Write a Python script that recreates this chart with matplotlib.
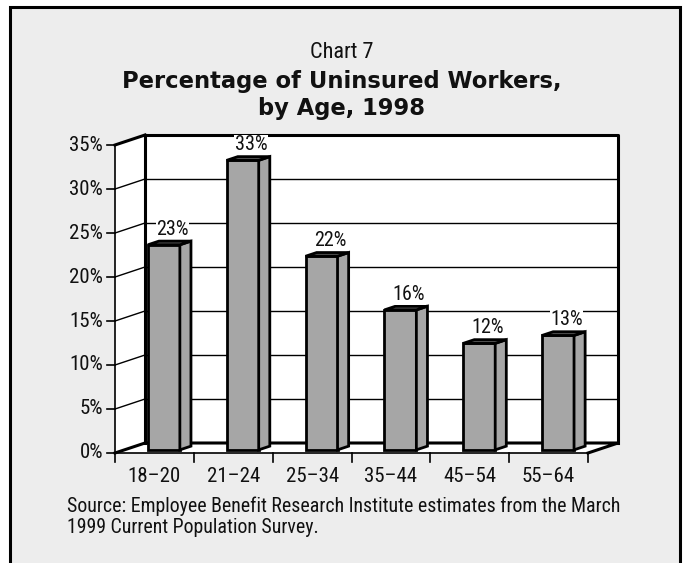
import matplotlib
matplotlib.use("Agg")
import matplotlib.pyplot as plt
from matplotlib import font_manager
from matplotlib.patches import Polygon, Rectangle

# ---- data ----
categories = ["18–20", "21–24", "25–34", "35–44", "45–54", "55–64"]
values = [23.3, 32.9, 22.0, 15.9, 12.1, 13.0]
value_labels = ["23%", "33%", "22%", "16%", "12%", "13%"]
y_ticks = [0, 5, 10, 15, 20, 25, 30, 35]
y_tick_labels = ["0%", "5%", "10%", "15%", "20%", "25%", "30%", "35%"]
chart_no = "Chart 7"
title_lines = "Percentage of Uninsured Workers,\nby Age, 1998"
source = ("Source: Employee Benefit Research Institute estimates from the March\n"
          "1999 Current Population Survey.")

# ---- fonts ----
names = {f.name for f in font_manager.fontManager.ttflist}
COND = next((n for n in ["Liberation Sans Narrow", "Roboto Condensed",
                         "Arial Narrow", "Liberation Sans"] if n in names), "DejaVu Sans")

W, H = 684, 563
fig = plt.figure(figsize=(W / 100, H / 100), dpi=100)
fig.patch.set_facecolor("white")

def fx(px):
    return px / W

def fy(py):
    return 1 - py / H

# outer panel
fig.patches.append(Rectangle((fx(10), fy(575)), fx(680) - fx(10), fy(7) - fy(575),
                             transform=fig.transFigure, facecolor="#ededed",
                             edgecolor="black", linewidth=2.2, zorder=-5))

# titles
fig.text(fx(342), fy(58), chart_no, ha="center", va="baseline",
         fontsize=16, family=COND, color="#111111")
l1, l2 = title_lines.split("\n")
fig.text(fx(342), fy(88), l1, ha="center", va="baseline",
         fontsize=16.3, fontweight="bold", family="DejaVu Sans", color="#111111")
fig.text(fx(342), fy(115), l2, ha="center", va="baseline",
         fontsize=16.3, fontweight="bold", family="DejaVu Sans", color="#111111")

# source
s1, s2 = source.split("\n")
fig.text(fx(67), fy(512), s1, ha="left", va="baseline", fontsize=14.3, family=COND, color="#111111")
fig.text(fx(67), fy(533), s2, ha="left", va="baseline", fontsize=14.3, family=COND, color="#111111")

# axes = front plane
L, R, B, T = 115, 588, 453, 145
ax = fig.add_axes([fx(L), fy(B), fx(R) - fx(L), fy(T) - fy(B)])
ax.set_xlim(0, len(categories))
ax.set_ylim(0, 35)
ax.axis("off")

n = len(categories)
px_x = (R - L) / n
px_y = (B - T) / 35.0
DX = 30 / px_x
DY = 10 / px_y
TOP = y_ticks[-1]

def poly(pts, fc, ec="black", lw=0, z=1):
    ax.add_patch(Polygon(pts, closed=True, facecolor=fc, edgecolor=ec,
                         linewidth=lw, clip_on=False, zorder=z, joinstyle="miter"))

def line(xs, ys, lw, z=2):
    ax.plot(xs, ys, color="black", linewidth=lw, clip_on=False, zorder=z,
            solid_capstyle="projecting")

# walls
poly([(DX, DY), (n + DX, DY), (n + DX, TOP + DY), (DX, TOP + DY)], "white", lw=0, z=1)
poly([(0, 0), (DX, DY), (DX, TOP + DY), (0, TOP)], "white", lw=0, z=1)
poly([(0, 0), (n, 0), (n + DX, DY), (DX, DY)], "white", lw=0, z=1)

# gridlines
for v in y_ticks[1:-1]:
    line([DX, n + DX], [v + DY, v + DY], 1.0, z=2)
    line([0, DX], [v, v + DY], 1.0, z=2)

# wall edges
thick = 2.2
line([DX, n + DX, n + DX], [TOP + DY, TOP + DY, DY], thick, z=3)
line([DX, DX], [DY, TOP + DY], thick, z=3)
line([0, DX], [TOP, TOP + DY], thick, z=3)
line([0, DX, n + DX, n], [0, DY, DY, 0], thick, z=3)
line([0, 0], [0, TOP], 1.2, z=3)
line([0, n], [0, 0], 1.2, z=3)

# y ticks & labels
tick_x = 8 / px_x
for v, lab in zip(y_ticks, y_tick_labels):
    line([-tick_x, 0], [v, v], 1.2, z=3)
    ax.text(-12 / px_x, v, lab, ha="right", va="center", fontsize=15,
            family=COND, color="#111111")

# x ticks & labels
tick_y = 9 / px_y
for i in range(n + 1):
    line([i, i], [0, -tick_y], 1.2, z=3)
for i, c in enumerate(categories):
    ax.text(i + 0.5, -29 / px_y, c, ha="center", va="baseline", fontsize=15,
            family=COND, color="#111111")

# bars
f_front = 0.315
s_depth = 0.37
bw = 32 / px_x
for i, (v, lab) in enumerate(zip(values, value_labels)):
    xl = i + 0.5 - bw / 2 + f_front * DX
    xr = xl + bw
    yb = f_front * DY
    yt = v + f_front * DY
    sx, sy = s_depth * DX, s_depth * DY
    z = 10 + i
    poly([(xl, yb), (xr, yb), (xr, yt), (xl, yt)], "#a6a6a6", lw=2.0, z=z)
    poly([(xr, yb), (xr + sx, yb + sy), (xr + sx, yt + sy), (xr, yt)], "#a6a6a6", lw=2.0, z=z)
    poly([(xl, yt), (xr, yt), (xr + sx, yt + sy), (xl + sx, yt + sy)], "#555555", lw=2.0, z=z)
    ax.annotate(lab, xy=(xl + bw / 2 + 8.5 / px_x, yt), xytext=(0, 7.2),
                textcoords="offset points", ha="center", va="baseline",
                fontsize=14.5, family=COND, color="#111111", zorder=30,
                bbox=dict(facecolor="white", edgecolor="none", pad=0.5))

fig.savefig("out.png", dpi=100, facecolor=fig.get_facecolor())
